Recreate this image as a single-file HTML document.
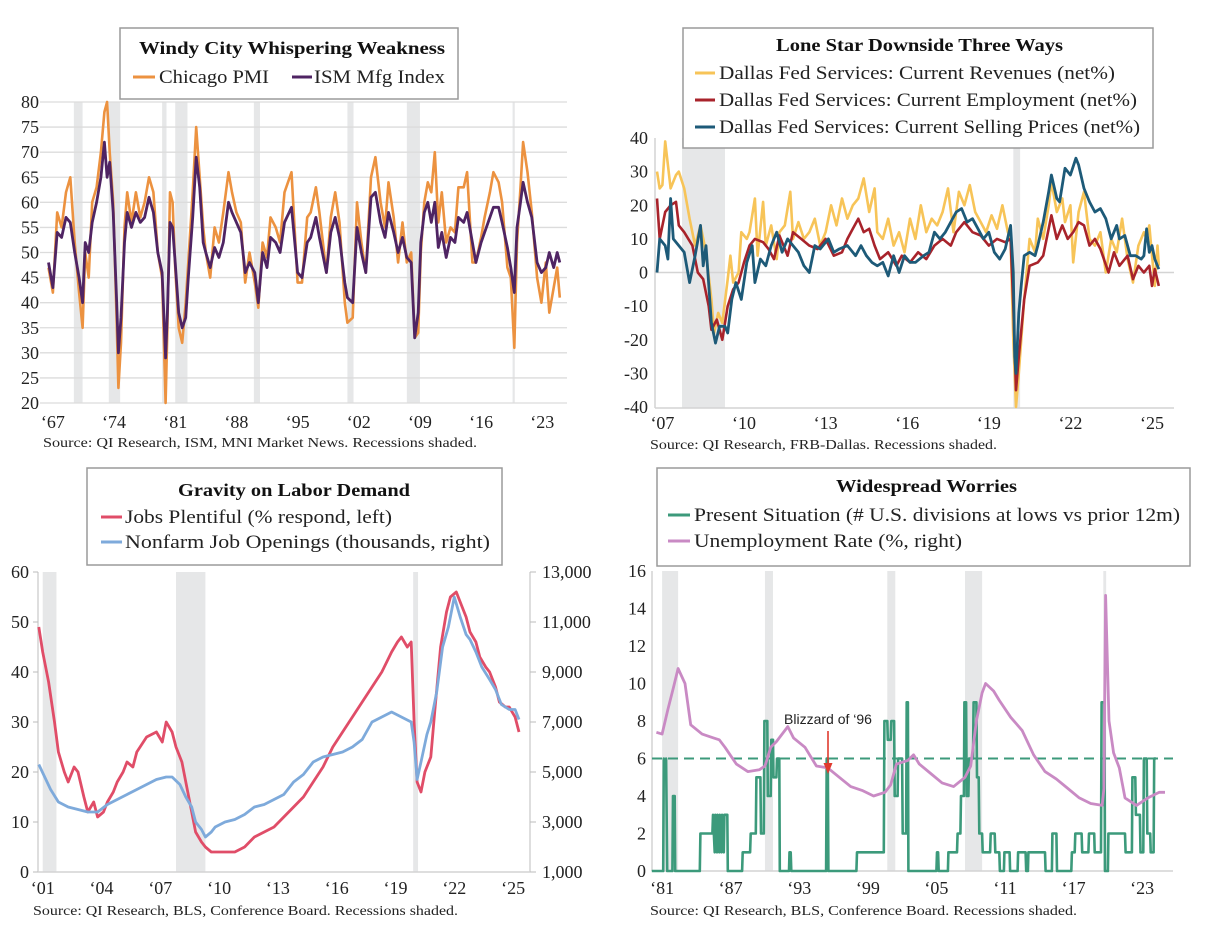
<!DOCTYPE html>
<html><head><meta charset="utf-8"><style>
html,body{margin:0;padding:0;background:#fff;}
svg{display:block;font-family:"Liberation Serif",serif;}
</style></head><body>
<svg id="root" width="1224" height="926" viewBox="0 0 1224 926" xmlns="http://www.w3.org/2000/svg"></svg>
<script>
// ---------- Panel 1 data ----------
const p1Recessions=[[1969.9,1970.9],[1973.9,1975.2],[1980.0,1980.5],[1981.5,1982.9],[1990.5,1991.2],[2001.2,2001.9],[2008.0,2009.5],[2020.1,2020.35]];
const p1YTicks=[20,25,30,35,40,45,50,55,60,65,70,75,80];
const p1XTicks=[1967,1974,1981,1988,1995,2002,2009,2016,2023];
const ismYears=[1967.0,1967.5,1968.0,1968.5,1969.0,1969.5,1970.0,1970.5,1970.9,1971.2,1971.6,1972.0,1972.5,1973.0,1973.4,1973.7,1974.0,1974.4,1974.8,1975.0,1975.3,1975.7,1976.0,1976.5,1977.0,1977.5,1978.0,1978.5,1979.0,1979.5,1980.0,1980.4,1980.6,1980.9,1981.2,1981.5,1981.9,1982.3,1982.7,1983.0,1983.5,1983.9,1984.3,1984.7,1985.0,1985.5,1986.0,1986.5,1987.0,1987.6,1988.0,1988.5,1989.0,1989.5,1990.0,1990.6,1991.0,1991.5,1992.0,1992.4,1993.0,1993.5,1994.0,1994.8,1995.5,1996.0,1996.6,1997.0,1997.6,1998.0,1998.8,1999.3,1999.8,2000.3,2000.9,2001.2,2001.8,2002.3,2002.8,2003.3,2003.9,2004.4,2005.0,2005.5,2005.9,2006.5,2007.0,2007.5,2008.0,2008.5,2008.9,2009.3,2009.6,2010.0,2010.4,2010.8,2011.2,2011.6,2012.0,2012.5,2013.0,2013.5,2013.9,2014.5,2014.9,2015.5,2015.9,2016.5,2016.9,2017.5,2017.9,2018.5,2018.9,2019.5,2019.9,2020.3,2020.6,2021.0,2021.3,2021.8,2022.3,2022.9,2023.4,2023.9,2024.3,2024.8,2025.2,2025.5];
const ismValues=[48,43,54,53,57,56,50,45,40,52,50,56,60,65,72,65,68,58,40,30,37,52,58,55,58,56,57,61,58,50,46,29,38,56,55,48,38,35,37,45,57,69,63,52,50,47,51,49,52,60,58,56,54,46,48,46,40,50,47,53,52,50,56,59,46,45,52,53,57,53,46,54,57,53,44,41,40,55,50,46,61,62,56,53,58,54,50,53,49,48,33,38,52,58,60,56,60,51,54,49,53,52,57,56,58,52,48,52,54,57,59,59,56,51,47,42,55,60,64,60,57,48,46,47,50,47,50,48];
const chiYears=ismYears;
const chiValues=[47,42,58,55,62,65,52,42,35,50,45,60,63,70,78,80,70,60,36,23,32,55,62,56,62,57,60,65,62,50,45,20,35,62,60,47,35,32,40,48,62,75,65,55,50,45,55,52,58,66,62,58,56,44,50,44,39,52,49,57,55,52,62,66,44,44,57,58,63,58,46,57,62,56,40,36,37,60,52,46,65,69,60,55,64,57,48,56,48,50,33,34,50,60,64,62,70,56,62,52,55,54,63,63,66,48,48,53,57,62,66,64,60,47,45,31,52,63,72,66,58,45,40,48,38,43,47,41];

// ---------- Panel 2 data ----------
const p2Recessions=[[2007.92,2009.5],[2020.1,2020.35]];
const p2YTicks=[-40,-30,-20,-10,0,10,20,30,40];
const p2XTicks=[2007,2010,2013,2016,2019,2022,2025];
const revYears=[2007.0,2007.1,2007.2,2007.3,2007.5,2007.7,2007.8,2008.0,2008.2,2008.4,2008.6,2008.8,2009.0,2009.1,2009.25,2009.4,2009.6,2009.7,2009.8,2010.0,2010.1,2010.3,2010.4,2010.6,2010.7,2010.9,2011.0,2011.2,2011.4,2011.5,2011.7,2011.9,2012.0,2012.2,2012.4,2012.6,2012.8,2013.0,2013.2,2013.4,2013.6,2013.8,2014.0,2014.2,2014.4,2014.6,2014.8,2015.0,2015.1,2015.3,2015.5,2015.7,2015.9,2016.1,2016.3,2016.5,2016.7,2016.9,2017.1,2017.3,2017.5,2017.7,2017.9,2018.1,2018.3,2018.5,2018.7,2018.9,2019.1,2019.3,2019.5,2019.7,2019.9,2020.0,2020.1,2020.2,2020.3,2020.5,2020.7,2020.9,2021.0,2021.2,2021.4,2021.5,2021.7,2021.9,2022.0,2022.2,2022.3,2022.5,2022.7,2022.9,2023.1,2023.3,2023.5,2023.7,2023.9,2024.1,2024.3,2024.5,2024.7,2024.9,2025.0,2025.1,2025.3,2025.4,2025.45];
const revValues=[30,25,26,39,25,29,30,25,16,8,14,6,-8,-18,-12,-15,-2,5,-3,0,12,10,12,22,5,21,8,14,4,12,14,24,10,15,10,12,16,8,12,20,14,22,16,20,22,28,18,25,12,10,16,8,12,6,16,10,20,12,16,14,18,25,12,24,20,26,18,15,12,17,13,20,12,10,-20,-40,-30,-8,10,6,16,10,20,27,18,22,15,20,3,18,24,10,8,12,0,10,6,16,4,-3,8,12,10,14,-4,8,2];
const empYears=[2007.0,2007.1,2007.3,2007.5,2007.7,2007.8,2008.0,2008.3,2008.5,2008.7,2008.9,2009.0,2009.2,2009.4,2009.6,2009.8,2010.0,2010.2,2010.4,2010.6,2010.9,2011.1,2011.3,2011.5,2011.8,2012.0,2012.3,2012.6,2012.9,2013.2,2013.5,2013.8,2014.0,2014.2,2014.4,2014.6,2014.8,2015.0,2015.2,2015.5,2015.8,2016.0,2016.3,2016.6,2016.9,2017.2,2017.5,2017.8,2018.0,2018.3,2018.6,2018.9,2019.2,2019.5,2019.8,2020.0,2020.1,2020.2,2020.3,2020.5,2020.7,2021.0,2021.2,2021.5,2021.7,2021.9,2022.1,2022.3,2022.5,2022.7,2022.9,2023.1,2023.3,2023.6,2023.8,2024.0,2024.3,2024.5,2024.7,2024.9,2025.1,2025.2,2025.3,2025.45];
const empValues=[22,10,18,20,21,14,12,8,0,-2,-10,-17,-14,-20,-10,-5,-3,3,8,10,9,7,4,11,5,12,10,8,7,10,5,6,10,13,16,12,13,8,4,6,2,5,3,6,4,8,10,8,12,15,12,11,8,10,9,10,-10,-35,-25,-8,2,3,5,17,10,14,10,12,15,14,8,10,7,0,6,2,5,-2,2,0,2,-4,1,-4];
const spYears=[2007.0,2007.1,2007.3,2007.4,2007.5,2007.6,2007.8,2008.0,2008.2,2008.4,2008.6,2008.7,2008.8,2009.0,2009.15,2009.3,2009.5,2009.6,2009.75,2009.9,2010.1,2010.3,2010.5,2010.6,2010.8,2011.0,2011.2,2011.4,2011.6,2011.8,2012.0,2012.2,2012.4,2012.6,2012.8,2013.0,2013.3,2013.5,2013.7,2014.0,2014.3,2014.5,2014.7,2014.9,2015.1,2015.3,2015.5,2015.7,2015.9,2016.1,2016.3,2016.5,2016.8,2017.0,2017.2,2017.4,2017.6,2017.8,2018.0,2018.2,2018.4,2018.6,2018.8,2019.0,2019.2,2019.4,2019.6,2019.8,2020.0,2020.1,2020.15,2020.2,2020.3,2020.4,2020.5,2020.7,2020.9,2021.0,2021.2,2021.4,2021.5,2021.7,2021.8,2022.0,2022.2,2022.4,2022.5,2022.7,2022.9,2023.1,2023.3,2023.5,2023.7,2023.9,2024.0,2024.2,2024.4,2024.6,2024.8,2024.9,2025.0,2025.1,2025.2,2025.3,2025.45];
const spValues=[0,10,8,4,22,10,8,6,-3,5,14,2,8,-15,-21,-16,-16,-18,-8,-3,-8,3,8,-3,4,2,8,12,6,10,8,6,2,0,8,7,10,6,7,8,5,8,5,3,2,3,-1,5,0,5,3,3,5,6,12,10,12,15,18,19,15,16,13,10,12,6,4,7,14,0,-25,-30,-12,-3,5,6,5,8,15,24,29,22,21,31,29,34,32,25,21,18,19,16,10,14,10,11,5,5,4,5,13,6,8,4,1];

// ---------- Panel 3 data ----------
const p3Recessions=[[2001.2,2001.9],[2008.0,2009.5],[2020.1,2020.35]];
const p3LeftTicks=[0,10,20,30,40,50,60];
const p3RightTicks=[1000,3000,5000,7000,9000,11000,13000];
const p3RightLabels=["1,000","3,000","5,000","7,000","9,000","11,000","13,000"];
const p3XTicks=[2001,2004,2007,2010,2013,2016,2019,2022,2025];
const jpYears=[2001.0,2001.2,2001.5,2001.8,2002.0,2002.3,2002.5,2002.8,2003.0,2003.3,2003.5,2003.8,2004.0,2004.3,2004.5,2004.8,2005.0,2005.3,2005.5,2005.8,2006.0,2006.5,2007.0,2007.3,2007.5,2007.8,2008.0,2008.3,2008.5,2008.8,2009.0,2009.3,2009.5,2009.8,2010.0,2010.5,2011.0,2011.5,2012.0,2012.5,2013.0,2013.5,2014.0,2014.5,2015.0,2015.5,2016.0,2016.5,2017.0,2017.5,2018.0,2018.5,2019.0,2019.3,2019.5,2019.8,2020.0,2020.15,2020.3,2020.5,2020.7,2021.0,2021.2,2021.5,2021.8,2022.0,2022.3,2022.5,2022.8,2023.0,2023.3,2023.5,2023.8,2024.0,2024.3,2024.5,2024.8,2025.0,2025.3,2025.5];
const jpValues=[49,44,38,30,24,20,18,21,20,15,12,14,11,12,14,16,18,20,22,21,24,27,28,26,30,28,25,22,18,12,8,6,5,4,4,4,4,5,7,8,9,11,13,15,18,21,25,28,31,34,37,40,44,46,47,45,46,30,18,16,20,23,32,45,52,55,56,54,51,48,46,43,41,40,37,34,33,33,31,28];
const joYears=[2001.0,2001.3,2001.6,2002.0,2002.5,2003.0,2003.5,2004.0,2004.5,2005.0,2005.5,2006.0,2006.5,2007.0,2007.5,2007.8,2008.2,2008.5,2008.8,2009.0,2009.3,2009.5,2009.8,2010.0,2010.5,2011.0,2011.5,2012.0,2012.5,2013.0,2013.5,2014.0,2014.5,2015.0,2015.5,2016.0,2016.5,2017.0,2017.5,2018.0,2018.5,2019.0,2019.5,2020.0,2020.15,2020.3,2020.5,2020.8,2021.0,2021.3,2021.6,2021.9,2022.2,2022.5,2022.8,2023.0,2023.3,2023.6,2024.0,2024.3,2024.6,2025.0,2025.3,2025.5];
const joValues=[5300,4800,4300,3800,3600,3500,3400,3400,3700,3900,4100,4300,4500,4700,4800,4800,4500,4000,3600,3000,2700,2400,2600,2800,3000,3100,3300,3600,3700,3900,4100,4600,4900,5400,5600,5700,5800,6000,6300,7000,7200,7400,7200,7000,6200,4700,5400,6500,7000,8200,10000,10800,12000,11200,10500,10300,9800,9200,8700,8300,7700,7500,7500,7100];

// ---------- Panel 4 data ----------
const p4Recessions=[[1981.5,1982.9],[1990.5,1991.2],[2001.2,2001.9],[2008.0,2009.5],[2020.1,2020.35]];
const p4YTicks=[0,2,4,6,8,10,12,14,16];
const p4XTicks=[1981,1987,1993,1999,2005,2011,2017,2023];
const thresholdValue=6;
const urYears=[1981.0,1981.5,1982.0,1982.5,1982.9,1983.5,1984.0,1985.0,1986.0,1986.5,1987.0,1988.0,1989.0,1990.0,1990.5,1991.0,1991.5,1992.5,1993.0,1994.0,1995.0,1996.0,1997.0,1998.0,1999.0,2000.0,2001.0,2001.5,2002.0,2003.0,2003.5,2004.0,2005.0,2006.0,2007.0,2008.0,2008.5,2009.0,2009.5,2009.8,2010.5,2011.0,2012.0,2013.0,2014.0,2015.0,2016.0,2017.0,2018.0,2019.0,2020.0,2020.15,2020.3,2020.6,2021.0,2021.5,2022.0,2023.0,2024.0,2025.0,2025.5];
const urValues=[7.4,7.3,8.6,9.8,10.8,10.0,7.8,7.3,7.1,7.0,6.6,5.7,5.3,5.4,5.6,6.6,6.9,7.7,7.1,6.6,5.6,5.5,5.0,4.5,4.3,4.0,4.2,4.6,5.7,5.9,6.2,5.7,5.2,4.7,4.5,5.0,5.6,8.0,9.5,10.0,9.6,9.1,8.2,7.5,6.2,5.3,4.9,4.4,3.9,3.6,3.5,4.4,14.7,8.0,6.3,5.5,3.9,3.5,3.9,4.2,4.2];
const psYears=[1980.6,1981.6,1981.65,1981.8,1981.85,1981.95,1982.0,1982.4,1982.45,1982.6,1982.65,1984.8,1984.85,1985.9,1985.95,1986.1,1986.15,1986.3,1986.35,1986.5,1986.55,1986.7,1986.75,1986.9,1986.95,1987.2,1987.25,1988.5,1988.55,1989.2,1989.25,1989.7,1989.75,1990.1,1990.15,1990.4,1990.45,1990.7,1990.75,1991.0,1991.05,1991.2,1991.25,1991.5,1991.55,1991.75,1991.8,1992.6,1992.65,1992.75,1992.8,1995.85,1995.9,1996.0,1996.05,1998.5,1998.55,2000.9,2000.95,2001.2,2001.25,2001.5,2001.55,2001.8,2001.85,2002.1,2002.15,2002.5,2002.55,2002.85,2002.9,2003.0,2003.05,2005.5,2005.55,2005.65,2005.7,2006.5,2006.55,2007.3,2007.35,2007.6,2007.65,2007.9,2007.95,2008.1,2008.15,2008.3,2008.35,2008.7,2008.75,2009.0,2009.05,2009.2,2009.25,2009.5,2009.55,2010.2,2010.25,2010.6,2010.65,2011.0,2011.05,2011.4,2011.45,2011.9,2011.95,2012.6,2012.65,2013.3,2013.35,2013.5,2013.55,2015.0,2015.05,2015.6,2015.65,2016.0,2016.05,2017.3,2017.35,2017.6,2017.65,2018.2,2018.25,2018.8,2018.85,2019.3,2019.35,2019.9,2019.95,2020.2,2020.25,2020.5,2020.55,2022.0,2022.05,2022.6,2022.65,2022.9,2022.95,2023.3,2023.35,2023.6,2023.65,2023.9,2023.95,2024.2,2024.25,2024.5,2024.55,2024.7,2024.75,2025.0,2025.05,2025.3,2025.35,2025.5];
const psValues=[0,0,6,5,6,0,0,0,4,4,0,0,2,2,3,1,3,1,3,1,3,1,3,1,3,3,0,0,1,1,2,2,5,5,2,2,8,8,4,4,7,7,5,5,6,6,0,0,1,1,0,0,6,6,0,0,1,1,8,8,7,7,8,8,4,4,6,6,2,2,9,9,0,0,1,1,0,0,1,1,2,2,4,4,9,9,4,4,6,6,9,9,5,5,2,2,1,1,2,2,1,1,0,0,1,1,0,0,1,1,0,0,1,1,0,0,2,2,0,0,1,1,2,2,1,1,2,2,1,1,9,9,0,0,2,2,1,1,5,5,3,3,1,1,6,6,2,2,1,1,6,6];

// ---------- helpers ----------
const NS="http://www.w3.org/2000/svg";
const root=document.getElementById('root');
function mk(tag,attrs,parent){const e=document.createElementNS(NS,tag);for(const k in attrs)e.setAttribute(k,attrs[k]);(parent||root).appendChild(e);return e;}
function grp(){const g=document.createElementNS(NS,'g');root.appendChild(g);return g;}
function linePath(xs,ys,xf,yf){let d='';for(let i=0;i<xs.length;i++){d+=(i?'L':'M')+xf(xs[i]).toFixed(1)+','+yf(ys[i]).toFixed(1);}return d;}

// ---------- scales ----------
const p1x=t=>48.5+(t-1967)*8.74, p1y=v=>403-(v-20)*301/60;
const p2x=t=>657+(t-2007)*27.2, p2y=v=>272.5-v*3.3625;
const p3x=t=>176+(t-2008)*19.6, p3yL=v=>872-v*5, p3yR=v=>872-(v-1000)*0.025;
const p4x=t=>965+(t-2008)*11.43, p4y=v=>871-v*18.75;

// ===== PANEL 1 =====
const g1=grp();


p1Recessions.forEach(r=>{const e=mk('rect',{x:p1x(r[0]),y:102,width:p1x(r[1])-p1x(r[0]),height:301,fill:'#e6e7e8'},g1);

});
p1YTicks.forEach(v=>{const l=mk('line',{x1:40,x2:567,y1:p1y(v),y2:p1y(v),stroke:'#dcdcdc','stroke-width':1.3},g1);


const t=mk('text',{x:39,y:p1y(v)+6,'text-anchor':'end','font-size':18,fill:'#222'},g1);t.textContent=v;

});
p1XTicks.forEach(yr=>{const t=mk('text',{x:p1x(yr+0.5),y:428,'text-anchor':'middle','font-size':18,fill:'#222'},g1);t.textContent='\u2018'+String(yr).slice(2);

});
{const e=mk('path',{d:linePath(chiYears,chiValues,p1x,p1y),fill:'none',stroke:'#ec9240','stroke-width':2.6,'stroke-linejoin':'round'},g1);

}
{const e=mk('path',{d:linePath(ismYears,ismValues,p1x,p1y),fill:'none',stroke:'#4f2463','stroke-width':2.8,'stroke-linejoin':'round'},g1);

}

// ===== PANEL 2 =====
const g2=grp();


p2Recessions.forEach(r=>{const e=mk('rect',{x:p2x(r[0]),y:138,width:p2x(r[1])-p2x(r[0]),height:270,fill:'#e6e7e8'},g2);

});
mk('line',{x1:655,x2:1174,y1:p2y(0),y2:p2y(0),stroke:'#d4d4d4','stroke-width':1.5},g2);
mk('line',{x1:655,x2:1174,y1:408,y2:408,stroke:'#d4d4d4','stroke-width':1.5},g2);
mk('line',{x1:655,x2:655,y1:138,y2:408,stroke:'#d4d4d4','stroke-width':1.5},g2);
p2YTicks.forEach(v=>{const t=mk('text',{x:648,y:p2y(v)+6,'text-anchor':'end','font-size':18,fill:'#222'},g2);t.textContent=v;

});
p2XTicks.forEach(yr=>{const t=mk('text',{x:p2x(yr+0.2),y:429,'text-anchor':'middle','font-size':18,fill:'#222'},g2);t.textContent='\u2018'+String(yr).slice(2);

});
{const e=mk('path',{d:linePath(revYears,revValues,p2x,p2y),fill:'none',stroke:'#f7c458','stroke-width':2.6,'stroke-linejoin':'round'},g2);

}
{const e=mk('path',{d:linePath(empYears,empValues,p2x,p2y),fill:'none',stroke:'#a8232b','stroke-width':2.6,'stroke-linejoin':'round'},g2);

}
{const e=mk('path',{d:linePath(spYears,spValues,p2x,p2y),fill:'none',stroke:'#1d5a78','stroke-width':2.8,'stroke-linejoin':'round'},g2);

}

// ===== PANEL 3 =====
const g3=grp();


p3Recessions.forEach(r=>{const e=mk('rect',{x:p3x(r[0]),y:572,width:p3x(r[1])-p3x(r[0]),height:300,fill:'#e6e7e8'},g3);

});
mk('line',{x1:38,x2:530,y1:872,y2:872,stroke:'#d4d4d4','stroke-width':1.5},g3);
mk('line',{x1:38,x2:38,y1:572,y2:872,stroke:'#d4d4d4','stroke-width':1.5},g3);
mk('line',{x1:530,x2:530,y1:572,y2:872,stroke:'#d4d4d4','stroke-width':1.5},g3);
p3LeftTicks.forEach(v=>{mk('line',{x1:33,x2:38,y1:p3yL(v),y2:p3yL(v),stroke:'#bbb'},g3);
const t=mk('text',{x:29,y:p3yL(v)+6,'text-anchor':'end','font-size':18,fill:'#222'},g3);t.textContent=v;

});
p3RightTicks.forEach((v,i)=>{mk('line',{x1:530,x2:536,y1:p3yR(v),y2:p3yR(v),stroke:'#bbb'},g3);
const t=mk('text',{x:542,y:p3yR(v)+6,'text-anchor':'start','font-size':18,fill:'#222'},g3);t.textContent=p3RightLabels[i];

});
p3XTicks.forEach(yr=>{const t=mk('text',{x:p3x(yr+0.2),y:894,'text-anchor':'middle','font-size':18,fill:'#222'},g3);t.textContent='\u2018'+String(yr).slice(2);

});
{const e=mk('path',{d:linePath(jpYears,jpValues,p3x,p3yL),fill:'none',stroke:'#e04d68','stroke-width':2.8,'stroke-linejoin':'round'},g3);

}
{const e=mk('path',{d:linePath(joYears,joValues,p3x,p3yR),fill:'none',stroke:'#7eaadb','stroke-width':2.8,'stroke-linejoin':'round'},g3);

}

// ===== PANEL 4 =====
const g4=grp();


p4Recessions.forEach(r=>{const e=mk('rect',{x:p4x(r[0]),y:571,width:p4x(r[1])-p4x(r[0]),height:300,fill:'#e6e7e8'},g4);

});
mk('line',{x1:652,x2:1173,y1:871,y2:871,stroke:'#d4d4d4','stroke-width':1.5},g4);
mk('line',{x1:652,x2:652,y1:571,y2:871,stroke:'#d4d4d4','stroke-width':1.5},g4);
p4YTicks.forEach(v=>{const t=mk('text',{x:646,y:p4y(v)+6,'text-anchor':'end','font-size':18,fill:'#222'},g4);t.textContent=v;

});
p4XTicks.forEach(yr=>{const t=mk('text',{x:p4x(yr+0.5),y:894,'text-anchor':'middle','font-size':18,fill:'#222'},g4);t.textContent='\u2018'+String(yr).slice(2);

});
{const e=mk('path',{d:linePath(psYears,psValues,p4x,p4y),fill:'none',stroke:'#3c9a7b','stroke-width':2.6,'stroke-linejoin':'round'},g4);

}
{const e=mk('line',{x1:652,x2:1173,y1:p4y(thresholdValue),y2:p4y(thresholdValue),stroke:'#3c9a7b','stroke-width':2,'stroke-dasharray':'10,6'},g4);

}
{const e=mk('path',{d:linePath(urYears,urValues,p4x,p4y),fill:'none',stroke:'#c98ac4','stroke-width':2.8,'stroke-linejoin':'round'},g4);

}
</script>

<!-- static overlays: legends, sources, annotation -->
<svg width="1224" height="926" viewBox="0 0 1224 926" style="position:absolute;left:0;top:0;font-family:'Liberation Serif',serif">
  <!-- Panel 1 legend -->
  <g>
    <rect x="120" y="28" width="338" height="71" fill="#fff" stroke="#9a9a9a" stroke-width="1.5"/>
    <text x="139" y="54" font-size="18" font-weight="bold" textLength="306" lengthAdjust="spacingAndGlyphs" fill="#111">Windy City Whispering Weakness</text>
    <line x1="133" x2="155" y1="77" y2="77" stroke="#ec9240" stroke-width="3"/>
    <text x="159" y="83" font-size="19" textLength="110" lengthAdjust="spacingAndGlyphs" fill="#222">Chicago PMI</text>
    <line x1="292" x2="312" y1="77" y2="77" stroke="#4f2463" stroke-width="3"/>
    <text x="314" y="83" font-size="19" textLength="131" lengthAdjust="spacingAndGlyphs" fill="#222">ISM Mfg Index</text>
  </g>
  <text x="43" y="447" font-size="14" textLength="434" lengthAdjust="spacingAndGlyphs" fill="#222">Source: QI Research, ISM, MNI Market News. Recessions shaded.</text>

  <!-- Panel 2 legend -->
  <g>
    <rect x="683" y="28" width="470" height="120" fill="#fff" stroke="#9a9a9a" stroke-width="1.5"/>
    <text x="776" y="51" font-size="18" font-weight="bold" textLength="287" lengthAdjust="spacingAndGlyphs" fill="#111">Lone Star Downside Three Ways</text>
    <line x1="695" x2="715" y1="73" y2="73" stroke="#f7c458" stroke-width="3"/>
    <text x="719" y="79" font-size="19" textLength="396" lengthAdjust="spacingAndGlyphs" fill="#222">Dallas Fed Services: Current Revenues (net%)</text>
    <line x1="695" x2="715" y1="100" y2="100" stroke="#a8232b" stroke-width="3"/>
    <text x="719" y="106" font-size="19" textLength="418" lengthAdjust="spacingAndGlyphs" fill="#222">Dallas Fed Services: Current Employment (net%)</text>
    <line x1="695" x2="715" y1="127" y2="127" stroke="#1d5a78" stroke-width="3"/>
    <text x="719" y="133" font-size="19" textLength="421" lengthAdjust="spacingAndGlyphs" fill="#222">Dallas Fed Services: Current Selling Prices (net%)</text>
  </g>
  <text x="650" y="449" font-size="14" textLength="347" lengthAdjust="spacingAndGlyphs" fill="#222">Source: QI Research, FRB-Dallas. Recessions shaded.</text>

  <!-- Panel 3 legend -->
  <g>
    <rect x="87" y="468" width="415" height="97" fill="#fff" stroke="#9a9a9a" stroke-width="1.5"/>
    <text x="178" y="496" font-size="18" font-weight="bold" textLength="232" lengthAdjust="spacingAndGlyphs" fill="#111">Gravity on Labor Demand</text>
    <line x1="101" x2="122" y1="517" y2="517" stroke="#e04d68" stroke-width="3"/>
    <text x="125" y="523" font-size="19" textLength="267" lengthAdjust="spacingAndGlyphs" fill="#222">Jobs Plentiful (% respond, left)</text>
    <line x1="101" x2="122" y1="542" y2="542" stroke="#7eaadb" stroke-width="3"/>
    <text x="125" y="548" font-size="19" textLength="365" lengthAdjust="spacingAndGlyphs" fill="#222">Nonfarm Job Openings (thousands, right)</text>
  </g>
  <text x="33" y="915" font-size="14" textLength="425" lengthAdjust="spacingAndGlyphs" fill="#222">Source: QI Research, BLS, Conference Board. Recessions shaded.</text>

  <!-- Panel 4 legend -->
  <g>
    <rect x="657" y="468" width="533" height="98" fill="#fff" stroke="#9a9a9a" stroke-width="1.5"/>
    <text x="836" y="492" font-size="18" font-weight="bold" textLength="181" lengthAdjust="spacingAndGlyphs" fill="#111">Widespread Worries</text>
    <line x1="668" x2="690" y1="515" y2="515" stroke="#3c9a7b" stroke-width="3"/>
    <text x="694" y="521" font-size="19" textLength="486" lengthAdjust="spacingAndGlyphs" fill="#222">Present Situation (# U.S. divisions at lows vs prior 12m)</text>
    <line x1="668" x2="690" y1="541" y2="541" stroke="#c98ac4" stroke-width="3"/>
    <text x="694" y="547" font-size="19" textLength="268" lengthAdjust="spacingAndGlyphs" fill="#222">Unemployment Rate (%, right)</text>
  </g>
  <g>
    <text x="828" y="724" font-size="14" text-anchor="middle" font-family="'Liberation Sans',sans-serif" fill="#222">Blizzard of ‘96</text>
    <line x1="828" x2="828" y1="731" y2="768" stroke="#e03a2e" stroke-width="1.6"/>
    <path d="M823.5,763 L832.5,763 L828,774 Z" fill="#e03a2e"/>
  </g>
  <text x="650" y="915" font-size="14" textLength="427" lengthAdjust="spacingAndGlyphs" fill="#222">Source: QI Research, BLS, Conference Board. Recessions shaded.</text>
</svg>
</body></html>
